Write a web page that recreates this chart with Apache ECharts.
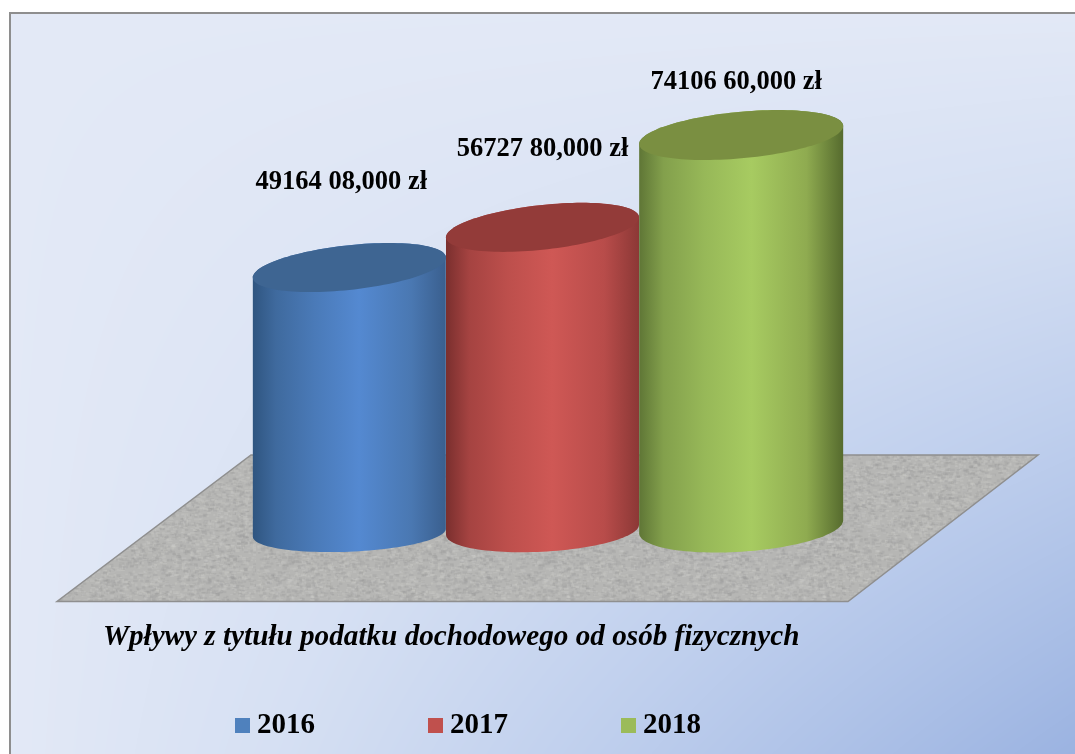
<!DOCTYPE html>
<html>
<head>
<meta charset="utf-8">
<style>html,body{margin:0;padding:0;background:#fff}#c{width:1075px;height:754px}</style>
<script src="https://cdn.jsdelivr.net/npm/echarts@6/dist/echarts.min.js"></script>
</head>
<body>
<div id="c"></div>
<script>
const years = ['2016', '2017', '2018'];
const values = [49164.08, 56727.80, 74106.60];
const valueLabels = ['49164 08,000 zł', '56727 80,000 zł', '74106 60,000 zł'];
const chartTitle = 'Wpływy z tytułu podatku dochodowego od osób fizycznych';

const FONT = '"Liberation Serif","Times New Roman",serif';
const palette = [
  {legend:'#4f81bd', top:'#3e6592', stops:['#2f5580','#3f6a9e','#4a7ab8','#5489d1','#4a78b2','#3a5f8e']},
  {legend:'#c0504d', top:'#933b39', stops:['#7a2f2e','#a54341','#bd4f4c','#cf5855','#b84c4a','#8c3836']},
  {legend:'#9bbb59', top:'#7a8f41', stops:['#5f7636','#83a04c','#97b858','#a7cb61','#8fab50','#566b2e']}
];
// perspective tuning of each cylinder: centre shift, half width, and ellipse shapes
const shape = [
  {dx:-2,   rx:96.5, topTilt:10, topB:22.4, baseDy:4,  baseTilt:4,   baseB:19},
  {dx:-5.5, rx:96.5, topTilt:10, topB:22.4, baseDy:1,  baseTilt:5,   baseB:22},
  {dx:-3.5, rx:102,  topTilt:9,  topB:23.3, baseDy:-2, baseTilt:6.5, baseB:25}
];
const labelPos = [{dx:-10, dy:-85}, {dx:-5.5, dy:-78}, {dx:-8.5, dy:-53}];

function ellipsePts(cx, cy, a, b, tilt, from, to, n) {
  const pts = [];
  for (let i = 0; i <= n; i++) {
    const t = from + (to - from) * i / n;
    pts.push([cx + a * Math.cos(t), cy + b * Math.sin(t) - tilt * Math.cos(t)]);
  }
  return pts;
}

function makeRender(idx) {
  return function (params, api) {
    const top = api.coord([api.value(0), api.value(1)]);
    const base = api.coord([api.value(0), 0]);
    const s = shape[idx], p = palette[idx];
    const cx = top[0] + s.dx;
    // body outline: front half of the base ellipse, then the back half of the top ellipse
    const lower = ellipsePts(cx, base[1] + s.baseDy, s.rx, s.baseB, s.baseTilt, Math.PI, 0, 60);
    const upper = ellipsePts(cx, top[1], s.rx, s.topB, s.topTilt, 0, -Math.PI, 60);
    const grad = {type:'linear', x:0, y:0, x2:1, y2:0, colorStops:[
      {offset:0, color:p.stops[0]}, {offset:.12, color:p.stops[1]}, {offset:.32, color:p.stops[2]},
      {offset:.55, color:p.stops[3]}, {offset:.82, color:p.stops[4]}, {offset:1, color:p.stops[5]}]};
    return {type:'group', children:[
      {type:'polygon', shape:{points:lower.concat(upper)}, style:{fill:grad}},
      {type:'polygon', shape:{points:ellipsePts(cx, top[1], s.rx, s.topB, s.topTilt, 0, 2*Math.PI, 120)}, style:{fill:p.top}},
      {type:'text', style:{text:valueLabels[idx], x:top[0]+labelPos[idx].dx, y:top[1]+labelPos[idx].dy,
        align:'center', verticalAlign:'middle', fill:'#000', font:'bold 26.5px '+FONT}}
    ]};
  };
}

// soft stone texture for the floor (fixed hash, not data)
function hash(a, b) {
  let h = Math.imul(a * 73856093 ^ b * 19349663, 0x5bd1e995);
  h ^= h >>> 13; h = Math.imul(h, 0x5bd1e995); h ^= h >>> 15;
  return (h >>> 0) / 4294967296;
}
const tex = document.createElement('canvas');
tex.width = tex.height = 256;
(function () {
  const g = tex.getContext('2d');
  g.fillStyle = '#b6b6b4'; g.fillRect(0,0,256,256);
  for (let i = 0; i < 9000; i++) {
    const x = hash(i, 1) * 256, y = hash(i, 2) * 256, k = hash(i, 3);
    g.fillStyle = k > .5 ? 'rgba(204,204,201,.28)' : 'rgba(152,152,150,.24)';
    g.fillRect(x, y, 2 + hash(i, 4) * 3, 1 + hash(i, 5) * 2);
  }
})();

// page background: blends from the light left/top edges into the bottom-right corner
const bg = document.createElement('canvas');
bg.width = 1075; bg.height = 754;
(function () {
  const g = bg.getContext('2d');
  const img = g.createImageData(1075, 754);
  const ramp = [[0,227,233,246],[.25,214,224,243],[.55,191,207,237],[1,155,179,225]];
  for (let y = 0; y < 754; y++) for (let x = 0; x < 1075; x++) {
    const t = (x / 1074) * (y / 753);
    let j = 0; while (j < ramp.length - 2 && t > ramp[j + 1][0]) j++;
    const a = ramp[j], b = ramp[j + 1], f = (t - a[0]) / (b[0] - a[0]);
    const o = (y * 1075 + x) * 4;
    img.data[o] = a[1] + (b[1] - a[1]) * f;
    img.data[o + 1] = a[2] + (b[2] - a[2]) * f;
    img.data[o + 2] = a[3] + (b[3] - a[3]) * f;
    img.data[o + 3] = 255;
  }
  g.putImageData(img, 0, 0);
})();

const chart = echarts.init(document.getElementById('c'), null, {renderer:'canvas'});
chart.setOption({
  backgroundColor:'#ffffff',
  animation:false,
  title:{text:chartTitle, left:103, top:623, padding:0,
    textStyle:{fontFamily:FONT, fontSize:29.2, fontWeight:'bold', fontStyle:'italic', color:'#000'}},
  legend:{data:years, left:235, top:711, padding:0, itemWidth:15, itemHeight:15, itemGap:113, icon:'rect',
    textStyle:{fontFamily:FONT, fontSize:29, fontWeight:'bold', color:'#000', padding:[2,0,0,2]}},
  grid:{left:253, width:590, top:50.6, height:478.1},
  xAxis:{type:'category', data:years, show:false},
  yAxis:{type:'value', min:0, max:90000, show:false},
  graphic:[
    {type:'rect', z:0, silent:true, shape:{x:10,y:13,width:1075,height:750},
      style:{fill:{image:bg, repeat:'no-repeat'}, stroke:'#8e8e8e', lineWidth:2}},
    {type:'polygon', z:1, silent:true, shape:{points:[[251,455],[1038,455],[848,601.5],[57,601.5]]},
      style:{fill:{image:tex, repeat:'repeat'}, stroke:'#8f8f8f', lineWidth:1.5}}
  ],
  series:years.map((y,i)=>({
    type:'custom', name:y, z:2+i, coordinateSystem:'cartesian2d',
    itemStyle:{color:palette[i].legend},
    encode:{x:0,y:1},
    renderItem:makeRender(i),
    data:[[y, values[i]]]
  }))
});
</script>
</body>
</html>
